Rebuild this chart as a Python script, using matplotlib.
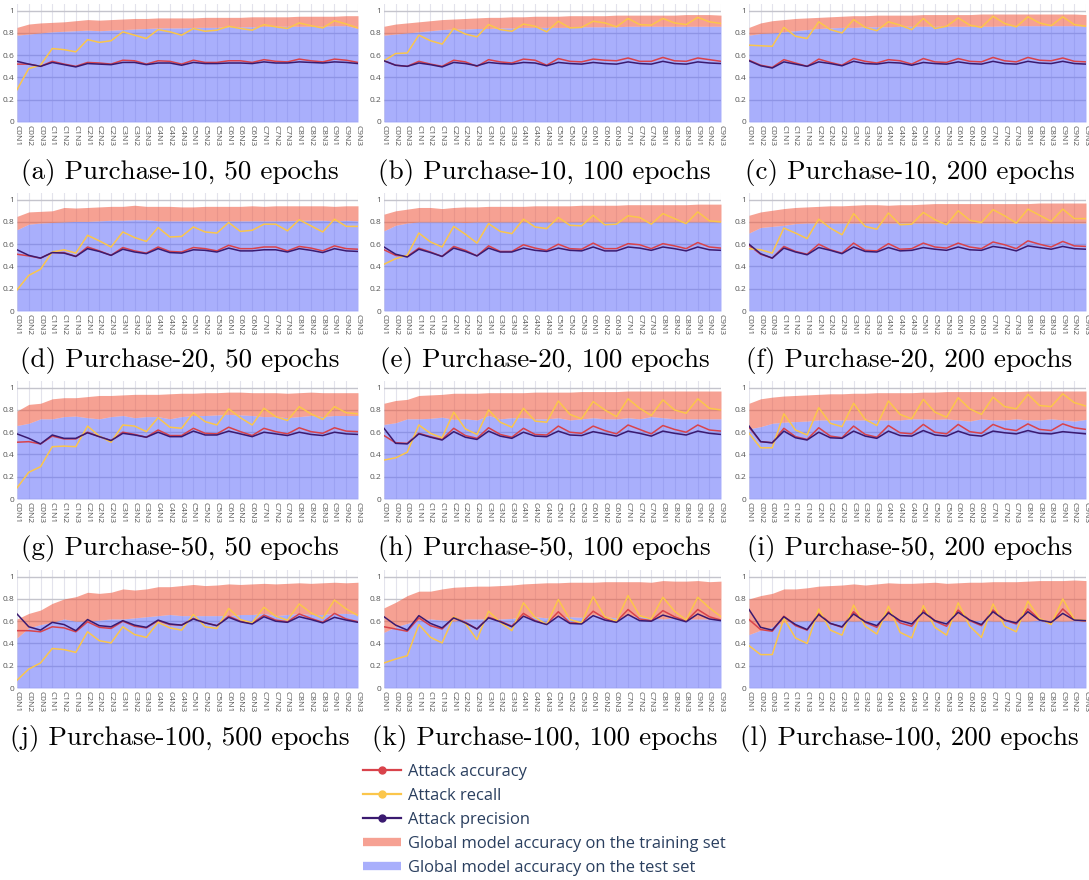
""" Attack metrics per round for the Purchase federated runs """

import matplotlib.pyplot as plt
from matplotlib.lines import Line2D

# Rounds: client group C0..C9, node N1..N3
rounds = ["C%dN%d" % (c, n) for c in range(10) for n in range(1, 4)]

# (a) Purchase-10, 50 epochs
train_a = [0.85, 0.88, 0.89, 0.895, 0.90, 0.91, 0.92, 0.915, 0.92, 0.925, 0.93, 0.93, 0.935, 0.935, 0.935,
           0.935, 0.94, 0.94, 0.94, 0.94, 0.945, 0.945, 0.945, 0.945, 0.95, 0.95, 0.95, 0.95, 0.955, 0.955]
test_a = [0.78, 0.79, 0.80, 0.81, 0.815, 0.82, 0.825, 0.82, 0.825, 0.83, 0.835, 0.84, 0.845, 0.845, 0.845,
          0.85, 0.85, 0.85, 0.855, 0.855, 0.855, 0.86, 0.86, 0.86, 0.86, 0.86, 0.86, 0.865, 0.865, 0.84]
acc_a = [0.52, 0.52, 0.50, 0.545, 0.52, 0.50, 0.535, 0.53, 0.52, 0.555, 0.55, 0.52, 0.55, 0.545, 0.52,
         0.555, 0.535, 0.535, 0.55, 0.55, 0.535, 0.56, 0.545, 0.54, 0.565, 0.55, 0.54, 0.565, 0.555, 0.535]
rec_a = [0.29, 0.48, 0.51, 0.66, 0.65, 0.63, 0.74, 0.715, 0.73, 0.81, 0.78, 0.75, 0.83, 0.81, 0.78,
         0.84, 0.815, 0.825, 0.86, 0.84, 0.825, 0.875, 0.855, 0.84, 0.89, 0.865, 0.845, 0.91, 0.88, 0.845]
prec_a = [0.545, 0.52, 0.50, 0.535, 0.515, 0.495, 0.525, 0.52, 0.515, 0.535, 0.535, 0.515, 0.53, 0.53, 0.51,
          0.535, 0.525, 0.525, 0.53, 0.53, 0.525, 0.54, 0.53, 0.53, 0.54, 0.535, 0.53, 0.54, 0.535, 0.525]

# (b) Purchase-10, 100 epochs
train_b = [0.86, 0.88, 0.89, 0.90, 0.91, 0.92, 0.925, 0.93, 0.935, 0.94, 0.94, 0.945, 0.945, 0.95, 0.95,
           0.95, 0.955, 0.955, 0.955, 0.955, 0.96, 0.96, 0.96, 0.96, 0.96, 0.96, 0.965, 0.965, 0.965, 0.96]
test_b = [0.78, 0.79, 0.80, 0.81, 0.82, 0.83, 0.835, 0.835, 0.84, 0.84, 0.845, 0.845, 0.85, 0.85, 0.85,
          0.85, 0.85, 0.855, 0.855, 0.855, 0.855, 0.86, 0.86, 0.86, 0.86, 0.86, 0.86, 0.86, 0.86, 0.86]
acc_b = [0.55, 0.51, 0.50, 0.545, 0.52, 0.50, 0.555, 0.54, 0.50, 0.56, 0.54, 0.53, 0.565, 0.555, 0.51,
         0.57, 0.545, 0.54, 0.565, 0.555, 0.55, 0.575, 0.545, 0.545, 0.58, 0.55, 0.545, 0.575, 0.56, 0.545]
rec_b = [0.55, 0.615, 0.62, 0.78, 0.73, 0.70, 0.84, 0.79, 0.765, 0.875, 0.83, 0.815, 0.88, 0.86, 0.81,
         0.905, 0.845, 0.85, 0.905, 0.89, 0.855, 0.93, 0.875, 0.87, 0.93, 0.89, 0.875, 0.94, 0.90, 0.885]
prec_b = [0.55, 0.51, 0.50, 0.53, 0.515, 0.495, 0.535, 0.525, 0.505, 0.535, 0.525, 0.52, 0.535, 0.53, 0.505,
          0.535, 0.525, 0.52, 0.535, 0.525, 0.52, 0.54, 0.525, 0.52, 0.545, 0.525, 0.52, 0.54, 0.53, 0.525]

# (c) Purchase-10, 200 epochs
train_c = [0.85, 0.89, 0.91, 0.92, 0.93, 0.935, 0.94, 0.945, 0.95, 0.955, 0.955, 0.96, 0.96, 0.96, 0.96,
           0.965, 0.965, 0.965, 0.965, 0.965, 0.97, 0.97, 0.97, 0.97, 0.97, 0.97, 0.97, 0.97, 0.97, 0.965]
test_c = [0.78, 0.795, 0.80, 0.81, 0.82, 0.83, 0.84, 0.845, 0.85, 0.85, 0.855, 0.855, 0.855, 0.86, 0.86,
          0.86, 0.86, 0.86, 0.86, 0.86, 0.86, 0.86, 0.865, 0.865, 0.865, 0.865, 0.865, 0.865, 0.865, 0.86]
acc_c = [0.555, 0.51, 0.49, 0.56, 0.53, 0.50, 0.565, 0.535, 0.51, 0.57, 0.545, 0.53, 0.56, 0.55, 0.52,
         0.57, 0.54, 0.535, 0.57, 0.545, 0.54, 0.58, 0.55, 0.54, 0.58, 0.555, 0.55, 0.575, 0.545, 0.54]
rec_c = [0.69, 0.685, 0.68, 0.85, 0.77, 0.75, 0.90, 0.83, 0.80, 0.92, 0.85, 0.82, 0.90, 0.87, 0.83,
         0.93, 0.84, 0.86, 0.935, 0.87, 0.85, 0.95, 0.885, 0.855, 0.945, 0.89, 0.865, 0.945, 0.875, 0.86]
prec_c = [0.55, 0.505, 0.485, 0.54, 0.52, 0.50, 0.54, 0.525, 0.505, 0.545, 0.525, 0.52, 0.535, 0.53, 0.51,
          0.535, 0.525, 0.52, 0.54, 0.525, 0.52, 0.545, 0.525, 0.52, 0.545, 0.53, 0.525, 0.545, 0.525, 0.52]

# (d) Purchase-20, 50 epochs
train_d = [0.85, 0.89, 0.895, 0.90, 0.93, 0.925, 0.93, 0.935, 0.94, 0.94, 0.95, 0.94, 0.94, 0.94, 0.935,
           0.935, 0.94, 0.94, 0.94, 0.94, 0.945, 0.94, 0.945, 0.945, 0.945, 0.945, 0.945, 0.94, 0.945, 0.945]
test_d = [0.73, 0.78, 0.79, 0.795, 0.80, 0.805, 0.805, 0.81, 0.815, 0.815, 0.82, 0.82, 0.81, 0.81, 0.81,
          0.81, 0.81, 0.81, 0.81, 0.81, 0.81, 0.81, 0.81, 0.81, 0.815, 0.815, 0.815, 0.81, 0.815, 0.81]
acc_d = [0.51, 0.495, 0.475, 0.525, 0.525, 0.49, 0.575, 0.54, 0.50, 0.57, 0.54, 0.52, 0.575, 0.535, 0.53,
         0.57, 0.56, 0.54, 0.59, 0.56, 0.56, 0.575, 0.575, 0.54, 0.58, 0.565, 0.54, 0.585, 0.56, 0.555]
rec_d = [0.19, 0.32, 0.375, 0.53, 0.55, 0.52, 0.68, 0.63, 0.575, 0.71, 0.66, 0.625, 0.75, 0.665, 0.67,
         0.755, 0.71, 0.70, 0.795, 0.715, 0.725, 0.78, 0.78, 0.72, 0.82, 0.765, 0.71, 0.825, 0.76, 0.76]
prec_d = [0.55, 0.50, 0.475, 0.525, 0.52, 0.49, 0.56, 0.535, 0.50, 0.555, 0.53, 0.515, 0.56, 0.525, 0.52,
          0.55, 0.545, 0.53, 0.565, 0.54, 0.54, 0.55, 0.55, 0.53, 0.56, 0.545, 0.525, 0.56, 0.54, 0.535]

# (e) Purchase-20, 100 epochs
train_e = [0.87, 0.90, 0.915, 0.93, 0.93, 0.92, 0.93, 0.935, 0.935, 0.94, 0.94, 0.94, 0.94, 0.945, 0.945,
           0.945, 0.945, 0.95, 0.95, 0.95, 0.95, 0.955, 0.955, 0.955, 0.955, 0.955, 0.955, 0.96, 0.96, 0.96]
test_e = [0.72, 0.77, 0.79, 0.80, 0.80, 0.80, 0.80, 0.795, 0.80, 0.80, 0.80, 0.80, 0.80, 0.80, 0.80,
          0.80, 0.80, 0.80, 0.80, 0.80, 0.80, 0.80, 0.80, 0.80, 0.80, 0.80, 0.80, 0.80, 0.80, 0.80]
acc_e = [0.55, 0.50, 0.49, 0.565, 0.53, 0.49, 0.58, 0.545, 0.495, 0.585, 0.535, 0.535, 0.595, 0.565, 0.545,
         0.60, 0.56, 0.555, 0.61, 0.56, 0.56, 0.605, 0.595, 0.56, 0.605, 0.585, 0.56, 0.615, 0.575, 0.565]
rec_e = [0.42, 0.47, 0.50, 0.70, 0.62, 0.575, 0.76, 0.69, 0.61, 0.785, 0.715, 0.695, 0.825, 0.755, 0.74,
         0.84, 0.77, 0.765, 0.86, 0.775, 0.78, 0.855, 0.84, 0.78, 0.875, 0.83, 0.785, 0.89, 0.81, 0.80]
prec_e = [0.575, 0.51, 0.485, 0.555, 0.525, 0.49, 0.565, 0.535, 0.495, 0.565, 0.53, 0.53, 0.565, 0.545, 0.535,
          0.565, 0.545, 0.54, 0.575, 0.54, 0.54, 0.575, 0.565, 0.545, 0.575, 0.56, 0.54, 0.575, 0.55, 0.545]

# (f) Purchase-20, 200 epochs
train_f = [0.86, 0.89, 0.905, 0.92, 0.93, 0.935, 0.94, 0.945, 0.945, 0.95, 0.955, 0.955, 0.95, 0.955, 0.955,
           0.96, 0.965, 0.965, 0.965, 0.965, 0.965, 0.965, 0.965, 0.965, 0.965, 0.97, 0.97, 0.97, 0.97, 0.97]
test_f = [0.70, 0.75, 0.76, 0.77, 0.785, 0.79, 0.79, 0.79, 0.79, 0.79, 0.79, 0.79, 0.79, 0.79, 0.79,
          0.79, 0.79, 0.79, 0.79, 0.79, 0.79, 0.79, 0.79, 0.79, 0.79, 0.79, 0.79, 0.79, 0.79, 0.79]
acc_f = [0.59, 0.51, 0.475, 0.58, 0.535, 0.51, 0.60, 0.55, 0.52, 0.61, 0.545, 0.54, 0.605, 0.555, 0.56,
         0.61, 0.575, 0.565, 0.61, 0.575, 0.56, 0.62, 0.595, 0.56, 0.63, 0.60, 0.575, 0.625, 0.585, 0.58]
rec_f = [0.56, 0.55, 0.52, 0.745, 0.70, 0.65, 0.825, 0.745, 0.685, 0.875, 0.76, 0.735, 0.88, 0.775, 0.78,
         0.885, 0.82, 0.775, 0.90, 0.815, 0.795, 0.91, 0.855, 0.79, 0.915, 0.86, 0.805, 0.915, 0.83, 0.83]
prec_f = [0.60, 0.515, 0.475, 0.565, 0.53, 0.505, 0.57, 0.545, 0.515, 0.575, 0.535, 0.53, 0.57, 0.54, 0.545,
          0.57, 0.555, 0.545, 0.575, 0.55, 0.545, 0.58, 0.565, 0.54, 0.585, 0.57, 0.555, 0.58, 0.56, 0.555]

# (g) Purchase-50, 50 epochs
train_g = [0.79, 0.85, 0.86, 0.90, 0.91, 0.91, 0.92, 0.93, 0.93, 0.935, 0.94, 0.94, 0.94, 0.945, 0.95,
           0.95, 0.955, 0.955, 0.96, 0.96, 0.955, 0.955, 0.955, 0.95, 0.955, 0.96, 0.955, 0.955, 0.955, 0.955]
test_g = [0.66, 0.68, 0.72, 0.72, 0.74, 0.745, 0.73, 0.72, 0.74, 0.75, 0.73, 0.74, 0.74, 0.72, 0.74,
          0.75, 0.75, 0.755, 0.76, 0.755, 0.75, 0.74, 0.74, 0.73, 0.74, 0.75, 0.74, 0.75, 0.75, 0.75]
acc_g = [0.51, 0.515, 0.495, 0.565, 0.54, 0.54, 0.60, 0.56, 0.525, 0.60, 0.58, 0.555, 0.62, 0.57, 0.57,
         0.635, 0.59, 0.585, 0.645, 0.605, 0.57, 0.635, 0.605, 0.585, 0.64, 0.605, 0.59, 0.64, 0.61, 0.605]
rec_g = [0.10, 0.24, 0.29, 0.47, 0.475, 0.47, 0.655, 0.565, 0.51, 0.665, 0.655, 0.605, 0.73, 0.645, 0.635,
         0.775, 0.695, 0.665, 0.81, 0.73, 0.665, 0.815, 0.74, 0.705, 0.83, 0.765, 0.715, 0.83, 0.775, 0.765]
prec_g = [0.585, 0.545, 0.495, 0.575, 0.545, 0.545, 0.595, 0.56, 0.525, 0.59, 0.575, 0.555, 0.60, 0.56, 0.56,
          0.61, 0.575, 0.575, 0.61, 0.585, 0.56, 0.60, 0.585, 0.57, 0.60, 0.58, 0.57, 0.60, 0.585, 0.58]

# (h) Purchase-50, 100 epochs
train_h = [0.86, 0.885, 0.895, 0.93, 0.935, 0.94, 0.95, 0.95, 0.95, 0.955, 0.955, 0.955, 0.955, 0.96, 0.96,
           0.96, 0.96, 0.965, 0.965, 0.965, 0.965, 0.97, 0.97, 0.97, 0.97, 0.97, 0.97, 0.97, 0.97, 0.97]
test_h = [0.67, 0.685, 0.72, 0.72, 0.725, 0.735, 0.715, 0.72, 0.71, 0.75, 0.72, 0.73, 0.73, 0.72, 0.72,
          0.73, 0.71, 0.72, 0.73, 0.72, 0.72, 0.73, 0.72, 0.74, 0.73, 0.72, 0.72, 0.72, 0.72, 0.72]
acc_h = [0.57, 0.505, 0.50, 0.59, 0.56, 0.535, 0.635, 0.57, 0.545, 0.64, 0.58, 0.555, 0.635, 0.58, 0.575,
         0.655, 0.60, 0.59, 0.655, 0.615, 0.585, 0.665, 0.625, 0.585, 0.66, 0.625, 0.60, 0.665, 0.62, 0.61]
rec_h = [0.35, 0.37, 0.42, 0.665, 0.59, 0.55, 0.78, 0.63, 0.58, 0.80, 0.69, 0.645, 0.815, 0.70, 0.69,
         0.88, 0.76, 0.72, 0.875, 0.80, 0.74, 0.90, 0.815, 0.75, 0.89, 0.80, 0.77, 0.90, 0.815, 0.80]
prec_h = [0.635, 0.50, 0.495, 0.585, 0.555, 0.53, 0.605, 0.555, 0.535, 0.61, 0.565, 0.545, 0.60, 0.565, 0.56,
          0.61, 0.575, 0.57, 0.605, 0.585, 0.565, 0.61, 0.59, 0.565, 0.61, 0.59, 0.575, 0.61, 0.59, 0.58]

# (i) Purchase-50, 200 epochs
train_i = [0.86, 0.90, 0.915, 0.925, 0.93, 0.935, 0.94, 0.945, 0.945, 0.95, 0.95, 0.955, 0.955, 0.955, 0.955,
           0.96, 0.96, 0.965, 0.965, 0.965, 0.965, 0.965, 0.965, 0.965, 0.97, 0.97, 0.97, 0.97, 0.97, 0.97]
test_i = [0.63, 0.65, 0.68, 0.69, 0.695, 0.70, 0.71, 0.71, 0.71, 0.71, 0.71, 0.71, 0.71, 0.71, 0.72,
          0.72, 0.715, 0.72, 0.71, 0.70, 0.72, 0.71, 0.71, 0.72, 0.71, 0.71, 0.72, 0.71, 0.70, 0.715]
acc_i = [0.645, 0.515, 0.505, 0.635, 0.56, 0.535, 0.64, 0.565, 0.55, 0.655, 0.58, 0.555, 0.66, 0.595, 0.585,
         0.67, 0.60, 0.585, 0.67, 0.605, 0.59, 0.67, 0.63, 0.615, 0.675, 0.625, 0.615, 0.675, 0.64, 0.625]
rec_i = [0.59, 0.46, 0.46, 0.765, 0.62, 0.575, 0.82, 0.68, 0.65, 0.86, 0.715, 0.66, 0.88, 0.76, 0.72,
         0.895, 0.78, 0.735, 0.91, 0.81, 0.76, 0.915, 0.83, 0.81, 0.94, 0.84, 0.83, 0.945, 0.865, 0.835]
prec_i = [0.655, 0.515, 0.505, 0.61, 0.55, 0.53, 0.60, 0.55, 0.545, 0.61, 0.565, 0.545, 0.61, 0.57, 0.565,
          0.615, 0.575, 0.565, 0.61, 0.575, 0.565, 0.61, 0.595, 0.585, 0.615, 0.59, 0.585, 0.605, 0.595, 0.585]

# (j) Purchase-100, 500 epochs
train_j = [0.62, 0.67, 0.70, 0.76, 0.80, 0.82, 0.86, 0.85, 0.86, 0.89, 0.88, 0.89, 0.91, 0.91, 0.92,
           0.93, 0.92, 0.925, 0.935, 0.93, 0.935, 0.94, 0.935, 0.94, 0.945, 0.94, 0.945, 0.95, 0.945, 0.95]
test_j = [0.45, 0.54, 0.57, 0.59, 0.62, 0.60, 0.60, 0.61, 0.62, 0.62, 0.63, 0.64, 0.65, 0.66, 0.65,
          0.65, 0.65, 0.65, 0.65, 0.66, 0.66, 0.67, 0.65, 0.66, 0.67, 0.66, 0.66, 0.67, 0.67, 0.66]
acc_j = [0.515, 0.515, 0.505, 0.55, 0.54, 0.505, 0.595, 0.545, 0.535, 0.60, 0.555, 0.54, 0.605, 0.57, 0.565,
         0.625, 0.585, 0.56, 0.645, 0.60, 0.58, 0.655, 0.61, 0.595, 0.665, 0.625, 0.59, 0.67, 0.62, 0.595]
rec_j = [0.07, 0.17, 0.225, 0.355, 0.345, 0.32, 0.505, 0.425, 0.405, 0.55, 0.48, 0.455, 0.59, 0.54, 0.52,
         0.66, 0.55, 0.535, 0.715, 0.615, 0.585, 0.725, 0.645, 0.61, 0.755, 0.675, 0.625, 0.79, 0.71, 0.65]
prec_j = [0.665, 0.55, 0.52, 0.59, 0.57, 0.515, 0.615, 0.56, 0.55, 0.605, 0.565, 0.545, 0.61, 0.575, 0.565,
          0.62, 0.585, 0.56, 0.635, 0.595, 0.575, 0.64, 0.60, 0.59, 0.64, 0.615, 0.585, 0.635, 0.61, 0.59]

# (k) Purchase-100, 100 epochs
train_k = [0.72, 0.77, 0.83, 0.87, 0.87, 0.89, 0.905, 0.91, 0.915, 0.915, 0.92, 0.925, 0.935, 0.94, 0.945,
           0.945, 0.95, 0.95, 0.95, 0.955, 0.955, 0.955, 0.955, 0.95, 0.965, 0.96, 0.96, 0.965, 0.955, 0.96]
test_k = [0.50, 0.55, 0.58, 0.61, 0.62, 0.61, 0.60, 0.62, 0.62, 0.62, 0.62, 0.625, 0.64, 0.64, 0.63,
          0.64, 0.64, 0.635, 0.66, 0.64, 0.63, 0.65, 0.64, 0.63, 0.62, 0.63, 0.62, 0.62, 0.62, 0.62]
acc_k = [0.55, 0.53, 0.51, 0.63, 0.56, 0.53, 0.635, 0.59, 0.53, 0.635, 0.60, 0.555, 0.67, 0.605, 0.575,
         0.685, 0.585, 0.585, 0.69, 0.625, 0.595, 0.705, 0.62, 0.605, 0.695, 0.64, 0.60, 0.705, 0.64, 0.61]
rec_k = [0.225, 0.26, 0.29, 0.57, 0.455, 0.405, 0.64, 0.58, 0.435, 0.69, 0.59, 0.515, 0.765, 0.635, 0.57,
         0.795, 0.615, 0.585, 0.82, 0.64, 0.60, 0.83, 0.65, 0.62, 0.815, 0.69, 0.61, 0.815, 0.72, 0.64]
prec_k = [0.64, 0.565, 0.52, 0.65, 0.58, 0.54, 0.63, 0.585, 0.53, 0.63, 0.595, 0.55, 0.645, 0.60, 0.57,
          0.645, 0.58, 0.575, 0.65, 0.61, 0.59, 0.66, 0.605, 0.60, 0.655, 0.625, 0.595, 0.665, 0.62, 0.605]

# (l) Purchase-100, 200 epochs
train_l = [0.80, 0.83, 0.85, 0.89, 0.89, 0.90, 0.915, 0.92, 0.925, 0.935, 0.925, 0.935, 0.945, 0.94, 0.94,
           0.945, 0.95, 0.94, 0.945, 0.95, 0.95, 0.955, 0.955, 0.955, 0.96, 0.965, 0.965, 0.965, 0.97, 0.965]
test_l = [0.48, 0.52, 0.55, 0.59, 0.60, 0.605, 0.60, 0.60, 0.605, 0.60, 0.605, 0.61, 0.605, 0.605, 0.60,
          0.60, 0.60, 0.60, 0.60, 0.60, 0.61, 0.60, 0.60, 0.60, 0.60, 0.61, 0.605, 0.60, 0.605, 0.60]
acc_l = [0.615, 0.525, 0.51, 0.645, 0.56, 0.52, 0.67, 0.58, 0.545, 0.685, 0.59, 0.545, 0.685, 0.585, 0.555,
         0.70, 0.60, 0.555, 0.70, 0.605, 0.56, 0.70, 0.61, 0.575, 0.71, 0.615, 0.58, 0.71, 0.615, 0.60]
rec_l = [0.38, 0.30, 0.30, 0.625, 0.45, 0.40, 0.71, 0.52, 0.475, 0.745, 0.555, 0.485, 0.735, 0.50, 0.45,
         0.74, 0.545, 0.475, 0.765, 0.555, 0.455, 0.755, 0.555, 0.505, 0.78, 0.625, 0.57, 0.80, 0.615, 0.605]
prec_l = [0.705, 0.545, 0.52, 0.64, 0.57, 0.525, 0.66, 0.58, 0.55, 0.665, 0.595, 0.56, 0.675, 0.605, 0.575,
          0.68, 0.605, 0.575, 0.68, 0.61, 0.57, 0.685, 0.61, 0.585, 0.685, 0.61, 0.59, 0.67, 0.61, 0.605]

captions = [
    "(a) Purchase-10, 50 epochs", "(b) Purchase-10, 100 epochs", "(c) Purchase-10, 200 epochs",
    "(d) Purchase-20, 50 epochs", "(e) Purchase-20, 100 epochs", "(f) Purchase-20, 200 epochs",
    "(g) Purchase-50, 50 epochs", "(h) Purchase-50, 100 epochs", "(i) Purchase-50, 200 epochs",
    "(j) Purchase-100, 500 epochs", "(k) Purchase-100, 100 epochs", "(l) Purchase-100, 200 epochs",
]

panels = [
    (train_a, test_a, acc_a, rec_a, prec_a), (train_b, test_b, acc_b, rec_b, prec_b),
    (train_c, test_c, acc_c, rec_c, prec_c), (train_d, test_d, acc_d, rec_d, prec_d),
    (train_e, test_e, acc_e, rec_e, prec_e), (train_f, test_f, acc_f, rec_f, prec_f),
    (train_g, test_g, acc_g, rec_g, prec_g), (train_h, test_h, acc_h, rec_h, prec_h),
    (train_i, test_i, acc_i, rec_i, prec_i), (train_j, test_j, acc_j, rec_j, prec_j),
    (train_k, test_k, acc_k, rec_k, prec_k), (train_l, test_l, acc_l, rec_l, prec_l),
]

# Colours
RED_FILL = "#EF553B"
BLUE_FILL = "#636EFA"
ACC_COLOR = "#d9434b"
REC_COLOR = "#fbc64b"
PREC_COLOR = "#3a1a70"
TEXT_COLOR = "#2a3f5f"

plt.rcParams["font.family"] = ["Open Sans", "DejaVu Sans"]

W, H = 1089, 880
fig = plt.figure(figsize=(W / 100, H / 100), dpi=100)

# Pixel layout of the grid: column x spans, row bottoms (y = 0 line)
col_spans = [(17, 358), (384, 721), (749, 1086)]
row_bottoms = [122, 311, 499, 688]
ax_h = 118
YMAX = 1.06

x = list(range(len(rounds)))

for idx, (train, test, acc, rec, prec) in enumerate(panels):
    r, c = divmod(idx, 3)
    x0, x1 = col_spans[c]
    yb = row_bottoms[r]
    ax = fig.add_axes([x0 / W, 1 - yb / H, (x1 - x0) / W, ax_h / H])

    # Global model accuracy as stacked areas
    ax.fill_between(x, 0, test, color=BLUE_FILL, alpha=0.55, linewidth=0, zorder=2)
    ax.fill_between(x, test, train, color=RED_FILL, alpha=0.55, linewidth=0, zorder=2)

    # Attack metrics
    ax.plot(x, acc, color=ACC_COLOR, linewidth=1.1, zorder=3)
    ax.plot(x, rec, color=REC_COLOR, linewidth=1.1, zorder=3)
    ax.plot(x, prec, color=PREC_COLOR, linewidth=1.1, zorder=3)

    ax.set_xlim(0, len(rounds) - 1)
    ax.set_ylim(0, YMAX)
    ax.set_xticks(x)
    ax.set_xticklabels(rounds, rotation=-90, fontsize=6, color="#555555")
    ax.set_yticks([0, 0.2, 0.4, 0.6, 0.8, 1])
    ax.set_yticklabels(["0", "0.2", "0.4", "0.6", "0.8", "1"], fontsize=6, color="#555555")
    ax.tick_params(length=0, pad=2)
    ax.grid(axis="x", color="#e3e3ec", linewidth=0.8, zorder=0)
    ax.grid(axis="y", color="#c4c4cc", linewidth=1.0, zorder=0)
    ax.set_axisbelow(True)
    for spine in ax.spines.values():
        spine.set_visible(False)

    ax.text(0.5 - 8 / (x1 - x0), -50 / ax_h, captions[idx], transform=ax.transAxes,
            ha="center", va="center", fontsize=19.5, family="cmr10", color="black")

# Legend below the grid
handles = [
    Line2D([], [], color=ACC_COLOR, linewidth=1.6, marker="o", markersize=5),
    Line2D([], [], color=REC_COLOR, linewidth=1.6, marker="o", markersize=5),
    Line2D([], [], color=PREC_COLOR, linewidth=1.6, marker="o", markersize=5),
    Line2D([], [], color=RED_FILL, alpha=0.55, linewidth=6, solid_capstyle="butt"),
    Line2D([], [], color=BLUE_FILL, alpha=0.55, linewidth=6, solid_capstyle="butt"),
]
labels = [
    "Attack accuracy", "Attack recall", "Attack precision",
    "Global model accuracy on the training set", "Global model accuracy on the test set",
]
leg = fig.legend(handles, labels, loc="upper left", bbox_to_anchor=(363 / W, 1 - 764 / H),
                 frameon=False, fontsize=11.9, handlelength=2.3, handletextpad=0.45,
                 labelspacing=0.48, borderpad=0, borderaxespad=0)
for t in leg.get_texts():
    t.set_color(TEXT_COLOR)

fig.savefig("out.png", dpi=100)
